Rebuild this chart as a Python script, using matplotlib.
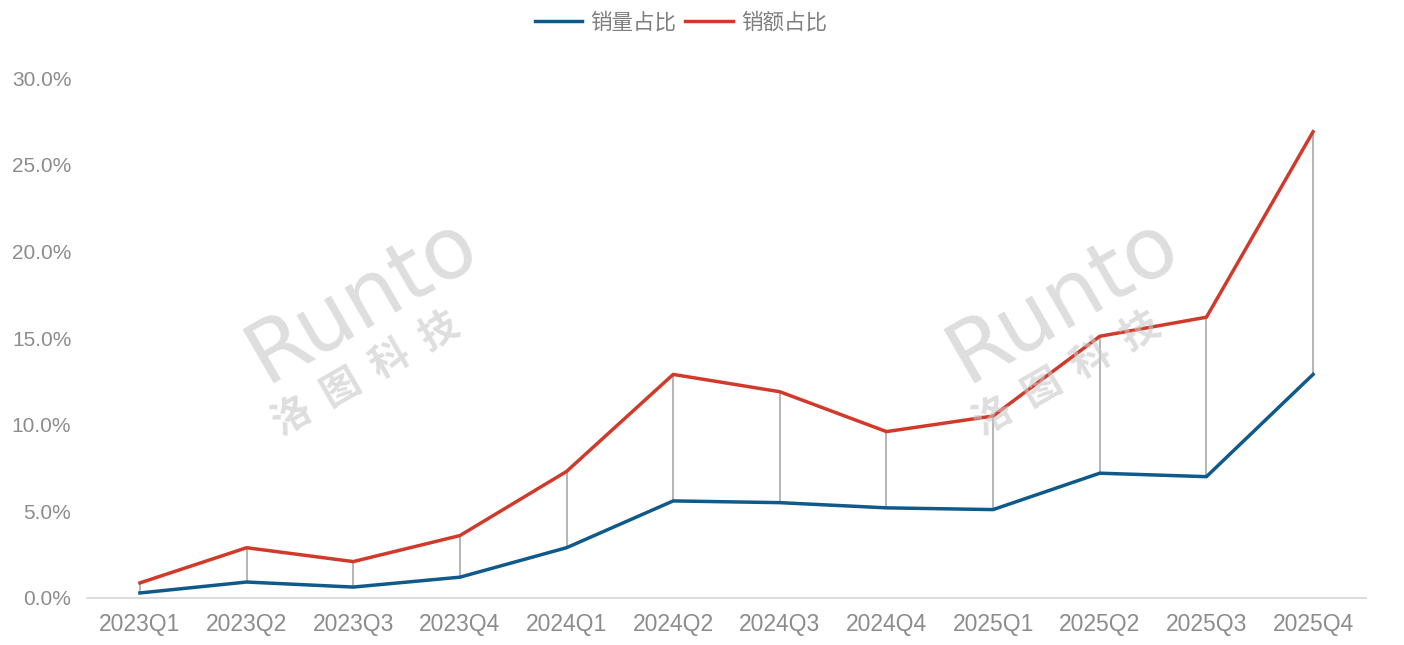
import matplotlib
matplotlib.use("Agg")
import matplotlib.pyplot as plt
from matplotlib.ticker import FuncFormatter

categories = ["2023Q1", "2023Q2", "2023Q3", "2023Q4", "2024Q1", "2024Q2",
              "2024Q3", "2024Q4", "2025Q1", "2025Q2", "2025Q3", "2025Q4"]
volume_share = [0.29, 0.92, 0.63, 1.2, 2.9, 5.6, 5.5, 5.2, 5.1, 7.2, 7.0, 12.9]
value_share = [0.87, 2.9, 2.1, 3.6, 7.3, 12.9, 11.9, 9.6, 10.5, 15.1, 16.2, 26.9]
series_names = ["销量占比", "销额占比"]

plt.rcParams['font.family'] = ['Liberation Sans', 'Noto Sans CJK SC', 'DejaVu Sans']

fig = plt.figure(figsize=(14.04, 6.45), dpi=100)
ax = fig.add_axes([0.0617, 0.0729, 0.9115, 0.8061])

x = list(range(len(categories)))
# high-low drop lines
ax.vlines(x, volume_share, value_share, colors="#B4B4B4", linewidth=1.4, zorder=1)
ax.plot(x, volume_share, color="#0F5A8A", linewidth=2.5, label=series_names[0], zorder=3)
ax.plot(x, value_share, color="#D13A2B", linewidth=2.5, label=series_names[1], zorder=3)

ax.set_xlim(-0.5, len(categories) - 0.5)
ax.set_ylim(0, 30)
ax.set_yticks([0, 5, 10, 15, 20, 25, 30])
ax.yaxis.set_major_formatter(FuncFormatter(lambda v, p: f"{v:.1f}%"))
ax.set_xticks(x)
ax.set_xticklabels(categories)

for s in ["top", "right", "left"]:
    ax.spines[s].set_visible(False)
ax.spines["bottom"].set_color("#D9D9D9")
ax.spines["bottom"].set_linewidth(1.3)
ax.tick_params(axis="both", length=0, labelcolor="#8C8C8C")
ax.tick_params(axis="x", labelsize=16.5, pad=11)
ax.tick_params(axis="y", labelsize=15, pad=11)
for lbl in ax.get_yticklabels():
    lbl.set_fontstretch("condensed")

leg = fig.legend(loc="upper center", bbox_to_anchor=(0.485, 1.012), ncol=2, frameon=False,
                 prop={"family": ["Noto Sans CJK SC"], "size": 15.5},
                 handlelength=2.2, columnspacing=0.4, handletextpad=0.4)
for t in leg.get_texts():
    t.set_color("#7F7F7F")

# watermarks
for cx in [0.258, 0.757]:
    fig.text(cx, 0.535, "Runto", fontsize=62, color="#C8C8C8", alpha=0.6, rotation=30,
             ha="center", va="center", family="DejaVu Sans")
    fig.text(cx + 0.003, 0.42, "洛  图  科  技", fontsize=28, color="#C8C8C8", alpha=0.6,
             rotation=30, ha="center", va="center", family="Noto Sans CJK SC", weight="bold")

fig.savefig("out.png", dpi=100)
